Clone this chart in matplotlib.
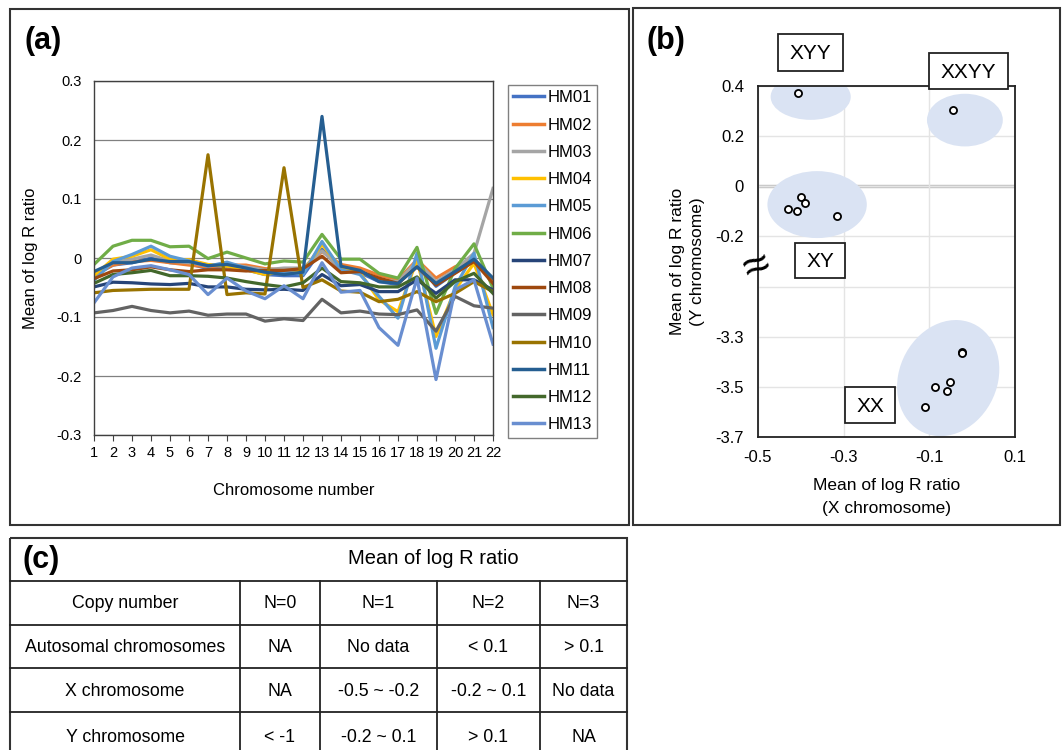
import numpy as np
import matplotlib
matplotlib.use("Agg")
import matplotlib.pyplot as plt
from matplotlib.patches import Ellipse, Rectangle

plt.rcParams['font.family'] = ['Liberation Sans', 'DejaVu Sans']

# ---- panel (a): mean log R ratio per autosome ----
chromosomes = list(range(1, 23))
samples = ["HM01", "HM02", "HM03", "HM04", "HM05", "HM06", "HM07",
           "HM08", "HM09", "HM10", "HM11", "HM12", "HM13"]
colors = ["#4472C4", "#ED7D31", "#A5A5A5", "#FFC000", "#5B9BD5", "#70AD47", "#264478",
          "#9E480E", "#636363", "#997300", "#255E91", "#43682B", "#698ED0"]

hm01 = [-0.030, -0.012, -0.008, 0.000, -0.008, -0.010, -0.018, -0.015, -0.020, -0.028, -0.030,
        -0.030, 0.015, -0.020, -0.025, -0.040, -0.045, -0.005, -0.048, -0.025, -0.005, -0.038]
hm02 = [-0.028, -0.012, -0.006, -0.004, -0.008, -0.012, -0.015, -0.012, -0.012, -0.018, -0.020,
        -0.020, 0.011, -0.011, -0.017, -0.029, -0.037, -0.003, -0.034, -0.015, -0.001, -0.037]
hm03 = [-0.025, -0.008, -0.002, 0.005, -0.005, -0.008, -0.012, -0.010, -0.015, -0.020, -0.017,
        -0.017, 0.012, -0.018, -0.022, -0.037, -0.040, -0.005, -0.040, -0.020, 0.008, 0.118]
hm04 = [-0.030, -0.002, 0.003, 0.014, -0.002, -0.003, -0.011, -0.014, -0.020, -0.028, -0.023,
        -0.023, 0.023, -0.017, -0.025, -0.071, -0.091, -0.003, -0.133, -0.054, -0.009, -0.096]
hm05 = [-0.038, -0.006, 0.006, 0.020, 0.003, -0.005, -0.014, -0.007, -0.017, -0.024, -0.023,
        -0.028, 0.028, -0.020, -0.028, -0.065, -0.102, 0.008, -0.153, -0.049, 0.008, -0.118]
hm06 = [-0.011, 0.020, 0.030, 0.030, 0.019, 0.020, -0.001, 0.010, 0.000, -0.010, -0.005,
        -0.007, 0.040, -0.002, -0.002, -0.026, -0.034, 0.018, -0.094, -0.018, 0.024, -0.051]
hm07 = [-0.049, -0.041, -0.042, -0.044, -0.045, -0.043, -0.049, -0.049, -0.053, -0.054, -0.053,
        -0.055, -0.028, -0.047, -0.045, -0.057, -0.057, -0.037, -0.060, -0.037, -0.037, -0.054]
hm08 = [-0.035, -0.022, -0.020, -0.015, -0.020, -0.023, -0.020, -0.020, -0.022, -0.021, -0.021,
        -0.018, 0.003, -0.025, -0.023, -0.034, -0.043, -0.015, -0.046, -0.026, -0.006, -0.043]
hm09 = [-0.093, -0.089, -0.082, -0.089, -0.093, -0.090, -0.097, -0.095, -0.095, -0.107, -0.103,
        -0.106, -0.070, -0.093, -0.090, -0.095, -0.096, -0.088, -0.124, -0.065, -0.081, -0.085]
hm10 = [-0.059, -0.055, -0.054, -0.053, -0.053, -0.053, 0.175, -0.062, -0.059, -0.061, 0.153,
        -0.050, -0.037, -0.056, -0.058, -0.074, -0.070, -0.057, -0.074, -0.060, -0.040, -0.057]
hm11 = [-0.023, -0.008, -0.008, -0.002, -0.006, -0.006, -0.013, -0.011, -0.017, -0.024, -0.028,
        -0.024, 0.240, -0.014, -0.021, -0.040, -0.043, -0.015, -0.043, -0.023, -0.002, -0.034]
hm12 = [-0.043, -0.028, -0.025, -0.021, -0.030, -0.030, -0.031, -0.034, -0.040, -0.045, -0.049,
        -0.042, -0.017, -0.040, -0.042, -0.049, -0.049, -0.032, -0.068, -0.040, -0.026, -0.060]
hm13 = [-0.076, -0.032, -0.017, -0.013, -0.020, -0.028, -0.062, -0.034, -0.056, -0.069, -0.047,
        -0.069, -0.008, -0.058, -0.055, -0.118, -0.148, -0.034, -0.206, -0.054, -0.037, -0.146]
series = [hm01, hm02, hm03, hm04, hm05, hm06, hm07, hm08, hm09, hm10, hm11, hm12, hm13]

# ---- panel (b): X vs Y chromosome means ----
x_mean = [-0.407, -0.044, -0.431, -0.410, -0.400, -0.391, -0.316,
          -0.024, -0.023, -0.087, -0.052, -0.059, -0.109]
y_mean = [0.372, 0.304, -0.089, -0.097, -0.043, -0.065, -0.119,
          -3.362, -3.366, -3.501, -3.481, -3.517, -3.581]
groups = ["XYY", "XXYY", "XY", "XX"]
group_center = [(-0.377, 0.357), (-0.017, 0.264), (-0.362, -0.073), (-0.056, -3.465)]
group_size = [(0.187, 0.184), (0.177, 0.21), (0.232, 0.267), (0.235, 0.465)]
group_angle = [0, 0, 0, -6]
group_box = [(778, 34, 843, 71), (929, 53, 1008, 89), (795, 243, 845, 278), (845, 387, 895, 423)]

# ---- panel (c): table ----
header = "Mean of log R ratio"
row_names = ["Copy number", "Autosomal chromosomes", "X chromosome", "Y chromosome"]
copy_number = ["N=0", "N=1", "N=2", "N=3"]
autosomal = ["NA", "No data", "< 0.1", "> 0.1"]
x_chrom = ["NA", "-0.5 ~ -0.2", "-0.2 ~ 0.1", "No data"]
y_chrom = ["< -1", "-0.2 ~ 0.1", "> 0.1", "NA"]
table_rows = [copy_number, autosomal, x_chrom, y_chrom]

W, H = 1063, 750
fig = plt.figure(figsize=(W / 100, H / 100), dpi=100)


def fbox(l, t, r, b):
    return [l / W, 1 - b / H, (r - l) / W, (b - t) / H]


# background: panel frames and table
bg = fig.add_axes([0, 0, 1, 1])
bg.set_xlim(0, W)
bg.set_ylim(H, 0)
bg.axis('off')
bg.set_zorder(-1)
frame_kw = dict(fill=False, edgecolor='#333333', lw=1.5)
bg.add_patch(Rectangle((10, 9), 619, 516, **frame_kw))
bg.add_patch(Rectangle((633, 8), 427, 517, **frame_kw))
bg.add_patch(Rectangle((10, 538), 617, 230, **frame_kw))

col_edges = [10, 240, 320, 437, 540, 627]
row_edges = [538, 581, 625, 668, 712, 760]
for yy in row_edges[1:-1]:
    bg.plot([10, 627], [yy, yy], color='#222222', lw=1.3)
for xx in col_edges[1:-1]:
    bg.plot([xx, xx], [581, 760], color='#222222', lw=1.3)
bg.text((240 + 627) / 2, 559, header, ha='center', va='center', fontsize=14.5)
for i, name in enumerate(row_names):
    yc = (row_edges[i + 1] + row_edges[i + 2]) / 2 + 1
    bg.text((col_edges[0] + col_edges[1]) / 2, yc, name, ha='center', va='center', fontsize=12.8)
    for j, val in enumerate(table_rows[i]):
        bg.text((col_edges[j + 1] + col_edges[j + 2]) / 2, yc, val,
                ha='center', va='center', fontsize=12.8)
bg.text(22, 560, "(c)", ha='left', va='center', fontsize=22, fontweight='bold')
bg.text(24, 41, "(a)", ha='left', va='center', fontsize=22, fontweight='bold')
bg.text(647, 41, "(b)", ha='left', va='center', fontsize=22, fontweight='bold')

# ---- (a) line chart ----
ax = fig.add_axes(fbox(94, 81, 493, 435))
for name, col, vals in zip(samples, colors, series):
    ax.plot(chromosomes, vals, color=col, lw=2.3, label=name)
ax.set_xlim(1, 22)
ax.set_ylim(-0.3, 0.3)
ax.set_xticks(chromosomes)
ax.set_yticks([0.3, 0.2, 0.1, 0, -0.1, -0.2, -0.3])
ax.set_yticklabels(["0.3", "0.2", "0.1", "0", "-0.1", "-0.2", "-0.3"])
ax.grid(axis='y', color='#808080', lw=0.9)
ax.set_axisbelow(True)
for s in ax.spines.values():
    s.set_color('#404040')
    s.set_linewidth(1.0)
ax.tick_params(axis='y', length=0, pad=9, labelsize=10.5)
ax.tick_params(axis='x', length=4, direction='out', color='#404040', pad=4, labelsize=10.5)
ax.set_xlabel("Chromosome number", fontsize=12)
ax.xaxis.set_label_coords(0.5, -0.135)
ax.set_ylabel("Mean of log R ratio", fontsize=12)
ax.yaxis.set_label_coords(-0.14, 0.5)
leg = ax.legend(loc='upper left', bbox_to_anchor=(508 / W, 1 - 85 / H),
                bbox_transform=fig.transFigure, borderaxespad=0, fontsize=12,
                frameon=True, fancybox=False, edgecolor='#808080', framealpha=1,
                handlelength=1.85, handletextpad=0.2, labelspacing=0.735, borderpad=0.32)
leg.get_frame().set_linewidth(1.0)
for h in leg.get_lines():
    h.set_linewidth(2.5)


# ---- (b) scatter with broken y axis ----
def fwd(y):
    y = np.asarray(y, dtype=float)
    return np.where(y < -1.0, y + 2.7, y)


def inv(t):
    t = np.asarray(t, dtype=float)
    return np.where(t < -0.5, t - 2.7, t)


bx = fig.add_axes(fbox(758, 86, 1015, 437))
bx.set_yscale('function', functions=(fwd, inv))
bx.set_xlim(-0.5, 0.1)
bx.set_ylim(-3.7, 0.4)
yt = [0.4, 0.2, 0, -0.2, -0.4, -3.3, -3.5, -3.7]
bx.set_yticks(yt)
bx.set_yticklabels(["0.4", "0.2", "0", "-0.2", "", "-3.3", "-3.5", "-3.7"])
bx.set_xticks([-0.5, -0.3, -0.1, 0.1])
bx.set_xticklabels(["-0.5", "-0.3", "-0.1", "0.1"])
bx.minorticks_off()
bx.grid(True, color='#E4E4E4', lw=1.0)
bx.set_axisbelow(True)
bx.axhline(0, color='#C4C4C4', lw=2.5, zorder=0.5)
for s in bx.spines.values():
    s.set_color('#222222')
    s.set_linewidth(1.3)
bx.tick_params(length=0, labelsize=12)
bx.tick_params(axis='y', pad=10)
bx.tick_params(axis='x', pad=9)
for (cx, cy), (w, h), a in zip(group_center, group_size, group_angle):
    bx.add_patch(Ellipse((cx, cy), w, h, angle=a, facecolor='#DAE3F3', edgecolor='none', zorder=1))
bx.scatter(x_mean, y_mean, s=26, facecolors='white', edgecolors='black', linewidths=1.3, zorder=3)
bx.set_xlabel("Mean of log R ratio\n(X chromosome)", fontsize=12.5, linespacing=1.6)
bx.xaxis.set_label_coords(0.5, -0.118)
bx.set_ylabel("Mean of log R ratio\n(Y chromosome)", fontsize=12.5, linespacing=1.45)
bx.yaxis.set_label_coords(-0.205, 0.5)

# foreground: group label boxes and axis break mark
fg = fig.add_axes([0, 0, 1, 1])
fg.set_xlim(0, W)
fg.set_ylim(H, 0)
fg.axis('off')
fg.set_zorder(5)
for g, (l, t, r, b) in zip(groups, group_box):
    fg.add_patch(Rectangle((l, t), r - l, b - t, facecolor='white', edgecolor='#222222', lw=1.3))
    fg.text((l + r) / 2, (t + b) / 2 + 1, g, ha='center', va='center', fontsize=15)
fg.text(757, 267, "\u2248", ha='center', va='center', fontsize=34, rotation=22)

fig.savefig("out.png", dpi=100)
